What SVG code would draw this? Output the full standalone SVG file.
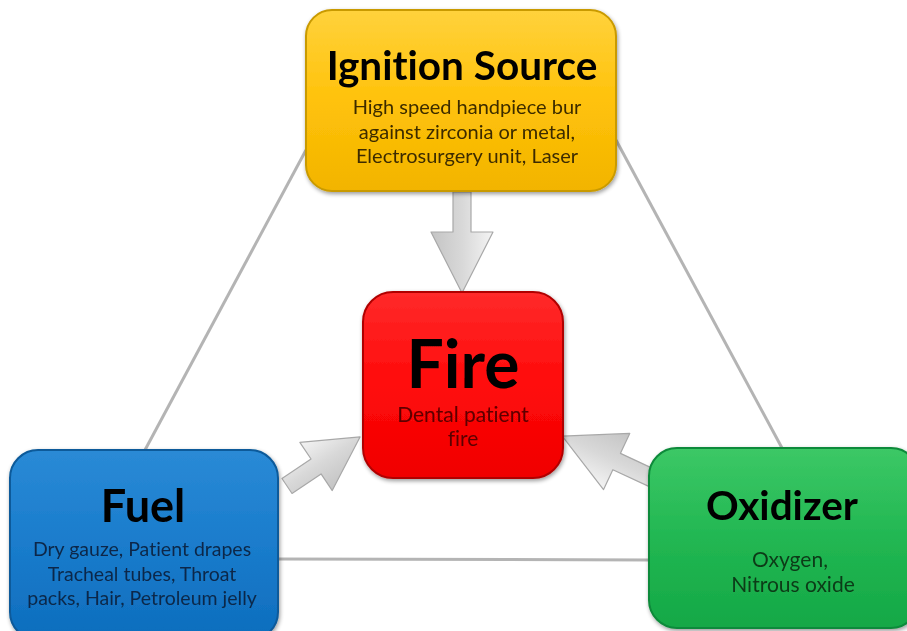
<svg xmlns="http://www.w3.org/2000/svg" width="907" height="631" viewBox="0 0 907 631">
<defs>
<linearGradient id="gY" x1="0" y1="0" x2="0" y2="1"><stop offset="0" stop-color="#ffd23c"/><stop offset="0.5" stop-color="#ffc20a"/><stop offset="1" stop-color="#f2b400"/></linearGradient>
<linearGradient id="gR" x1="0" y1="0" x2="0" y2="1"><stop offset="0" stop-color="#ff2a2a"/><stop offset="0.5" stop-color="#ff0a0a"/><stop offset="1" stop-color="#f00000"/></linearGradient>
<linearGradient id="gB" x1="0" y1="0" x2="0" y2="1"><stop offset="0" stop-color="#2a8ad6"/><stop offset="0.5" stop-color="#1a7ccc"/><stop offset="1" stop-color="#0d6dbd"/></linearGradient>
<linearGradient id="gG" x1="0" y1="0" x2="0" y2="1"><stop offset="0" stop-color="#3cc866"/><stop offset="0.5" stop-color="#22b752"/><stop offset="1" stop-color="#14a846"/></linearGradient>
<linearGradient id="gA" x1="0" y1="0" x2="0" y2="1"><stop offset="0" stop-color="#f4f4f4"/><stop offset="0.5" stop-color="#d8d8d8"/><stop offset="1" stop-color="#c4c4c4"/></linearGradient>
<filter id="sh" x="-10%" y="-10%" width="130%" height="130%"><feGaussianBlur in="SourceAlpha" stdDeviation="2"/><feOffset dx="1" dy="2"/><feComponentTransfer><feFuncA type="linear" slope="0.4"/></feComponentTransfer><feMerge><feMergeNode/><feMergeNode in="SourceGraphic"/></feMerge></filter>
</defs>
<style>
.ln{stroke:#b4b4b4;stroke-width:3;fill:none}
.arr{fill:url(#gA);stroke:#a8a8a8;stroke-width:1.2;stroke-linejoin:round}
.t{font-family:Lato,"Open Sans","Liberation Sans",sans-serif;text-anchor:middle;font-variant-ligatures:none}
.h{font-weight:bold;fill:#000}
.s{font-size:20px}
</style>
<rect width="907" height="631" fill="#ffffff"/>
<g id="connectors">
<line class="ln" x1="145" y1="450" x2="306" y2="150"/>
<line class="ln" x1="616" y1="140" x2="782" y2="448"/>
<line class="ln" x1="278" y1="559" x2="650" y2="560"/>
<polygon class="arr" transform="translate(462,192) rotate(90)" points="0,-9 40,-9 40,-31 101,0 40,31 40,9 0,9"/>
<polygon class="arr" transform="translate(287,486) rotate(-33.9)" points="0,-9 35,-9 35,-29 88,0 35,29 35,9 0,9"/>
<polygon class="arr" transform="translate(652,478) rotate(-155)" points="0,-9 39,-9 39,-31 99,0 39,31 39,9 0,9"/>
</g>
<g id="ignition" filter="url(#sh)">
<rect x="306" y="10" width="310" height="181" rx="26" fill="url(#gY)" stroke="#c99a00" stroke-width="2"/>
<text class="t h" x="462" y="80" font-size="40.5">Ignition Source</text>
<text class="t s" x="467" y="114" fill="#3c2c00">High speed handpiece bur</text>
<text class="t s" x="467" y="139" fill="#3c2c00">against zirconia or metal,</text>
<text class="t s" x="467" y="163" fill="#3c2c00">Electrosurgery unit, Laser</text>
</g>
<g id="fire" filter="url(#sh)">
<rect x="363" y="292" width="200" height="186" rx="30" fill="url(#gR)" stroke="#b00000" stroke-width="2"/>
<text class="t h" x="463" y="388" font-size="66">Fire</text>
<text class="t" x="463" y="422" font-size="21" fill="#5c0000">Dental patient</text>
<text class="t" x="463" y="446" font-size="21" fill="#5c0000">fire</text>
</g>
<g id="fuel" filter="url(#sh)">
<rect x="10" y="450" width="268" height="190" rx="28" fill="url(#gB)" stroke="#0a5a9a" stroke-width="2"/>
<text class="t h" x="143" y="522" font-size="45">Fuel</text>
<text class="t" x="142" y="556" font-size="19.5" fill="#0c2848">Dry gauze, Patient drapes</text>
<text class="t" x="142" y="581" font-size="19.5" fill="#0c2848">Tracheal tubes, Throat</text>
<text class="t" x="142" y="605" font-size="19.5" fill="#0c2848">packs, Hair, Petroleum jelly</text>
</g>
<g id="oxidizer" filter="url(#sh)">
<rect x="649" y="448" width="270" height="180" rx="28" fill="url(#gG)" stroke="#0e8a3a" stroke-width="2"/>
<text class="t h" x="782" y="520" font-size="40.5">Oxidizer</text>
<text class="t" x="790" y="567" font-size="21" fill="#0c3a18">Oxygen,</text>
<text class="t" x="793" y="592" font-size="21" fill="#0c3a18">Nitrous oxide</text>
</g>
</svg>
